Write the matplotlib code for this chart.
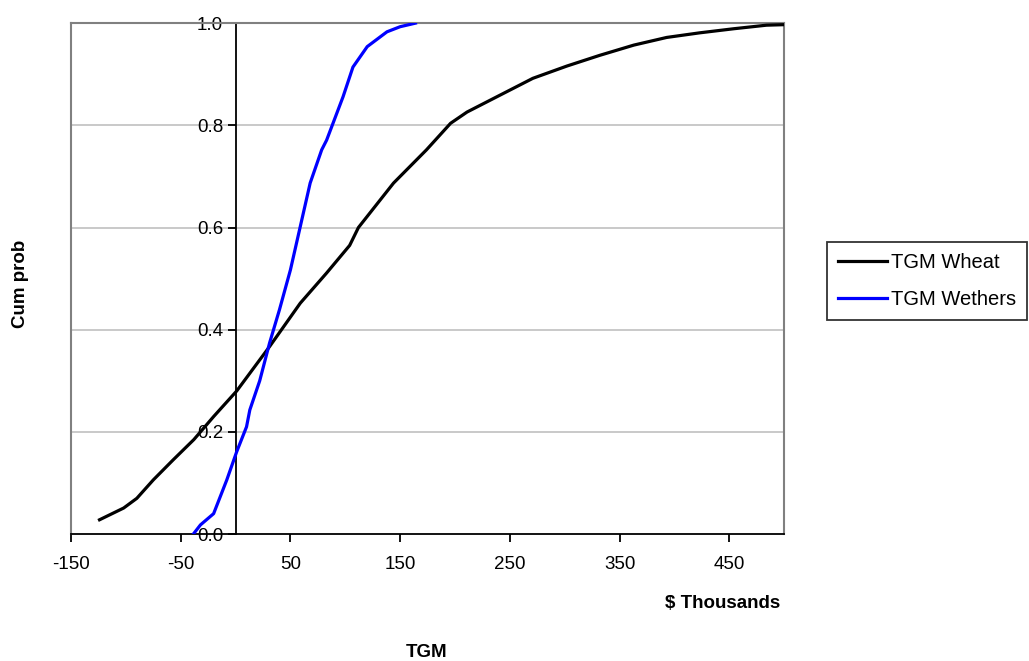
import matplotlib
matplotlib.use("Agg")
import matplotlib.pyplot as plt

plt.rcParams['font.family'] = ['Liberation Sans', 'DejaVu Sans']
plt.rcParams['axes.unicode_minus'] = False

# data
wheat_x = [-124, -102, -90, -75, -57, -38, -20, 1, 31, 59, 83, 104, 112, 144, 174,
           196, 211, 241, 271, 302, 332, 363, 393, 423, 454, 484, 500]
wheat_p = [0.028, 0.051, 0.07, 0.106, 0.145, 0.185, 0.23, 0.28, 0.367, 0.452, 0.511,
           0.565, 0.60, 0.687, 0.752, 0.804, 0.826, 0.859, 0.892, 0.916, 0.937, 0.957,
           0.972, 0.981, 0.989, 0.996, 0.997]

wethers_x = [-38.5, -32, -20, -8, 1, 10, 13, 22, 31, 40, 50, 59, 68, 78.5, 83, 98,
             107, 120, 138, 150, 164]
wethers_p = [0.0, 0.018, 0.04, 0.106, 0.161, 0.21, 0.243, 0.30, 0.374, 0.439, 0.517,
             0.602, 0.687, 0.752, 0.771, 0.856, 0.914, 0.954, 0.983, 0.993, 1.0]

x_ticks = [-150, -50, 50, 150, 250, 350, 450]
y_ticks = [0.0, 0.2, 0.4, 0.6, 0.8, 1.0]

fig = plt.figure(figsize=(10.29, 6.61), dpi=100)
ax = fig.add_axes([0.069, 0.192, 0.693, 0.773])

# horizontal gridlines
for yv in y_ticks[1:-1]:
    ax.axhline(yv, color='#c0c0c0', lw=1.2, zorder=0)

ax.plot(wheat_x, wheat_p, color='black', lw=2.3, label='TGM Wheat', zorder=3)
ax.plot(wethers_x, wethers_p, color='#0000ff', lw=2.3, label='TGM Wethers', zorder=3)

ax.set_xlim(-150, 500)
ax.set_ylim(0, 1)

# y axis crosses at x = 0
ax.spines['left'].set_position(('data', 0))
ax.spines['left'].set_color('black')
ax.spines['left'].set_linewidth(1.3)
ax.spines['bottom'].set_color('black')
ax.spines['bottom'].set_linewidth(1.3)
ax.spines['top'].set_color('#808080')
ax.spines['right'].set_color('#808080')
ax.spines['top'].set_linewidth(1.5)
ax.spines['right'].set_linewidth(1.5)
ax.axvline(-150, color='#808080', lw=1.5, clip_on=False)

ax.set_xticks(x_ticks)
ax.set_yticks(y_ticks)
ax.set_yticklabels(['%.1f' % v for v in y_ticks])
ax.tick_params(axis='both', direction='out', length=6, width=1.3, labelsize=13.5,
               colors='black')
ax.tick_params(axis='y', pad=3)
ax.tick_params(axis='x', pad=10)

fig.text(0.758, 0.087, '\\$ Thousands', ha='right', va='center', fontsize=13.5,
         fontweight='bold')
fig.text(0.415, 0.013, 'TGM', ha='center', va='center', fontsize=13.5,
         fontweight='bold')
fig.text(0.02, 0.57, 'Cum prob', ha='center', va='center', rotation=90,
         fontsize=13.5, fontweight='bold')

leg = fig.legend(loc='upper left', bbox_to_anchor=(0.804, 0.634), fontsize=14.5,
                 frameon=True, fancybox=False, edgecolor='black', handlelength=2.4,
                 handletextpad=0.2, borderpad=0.55, labelspacing=0.9,
                 borderaxespad=0)
leg.get_frame().set_linewidth(1.3)

fig.savefig('out.png', dpi=100)
